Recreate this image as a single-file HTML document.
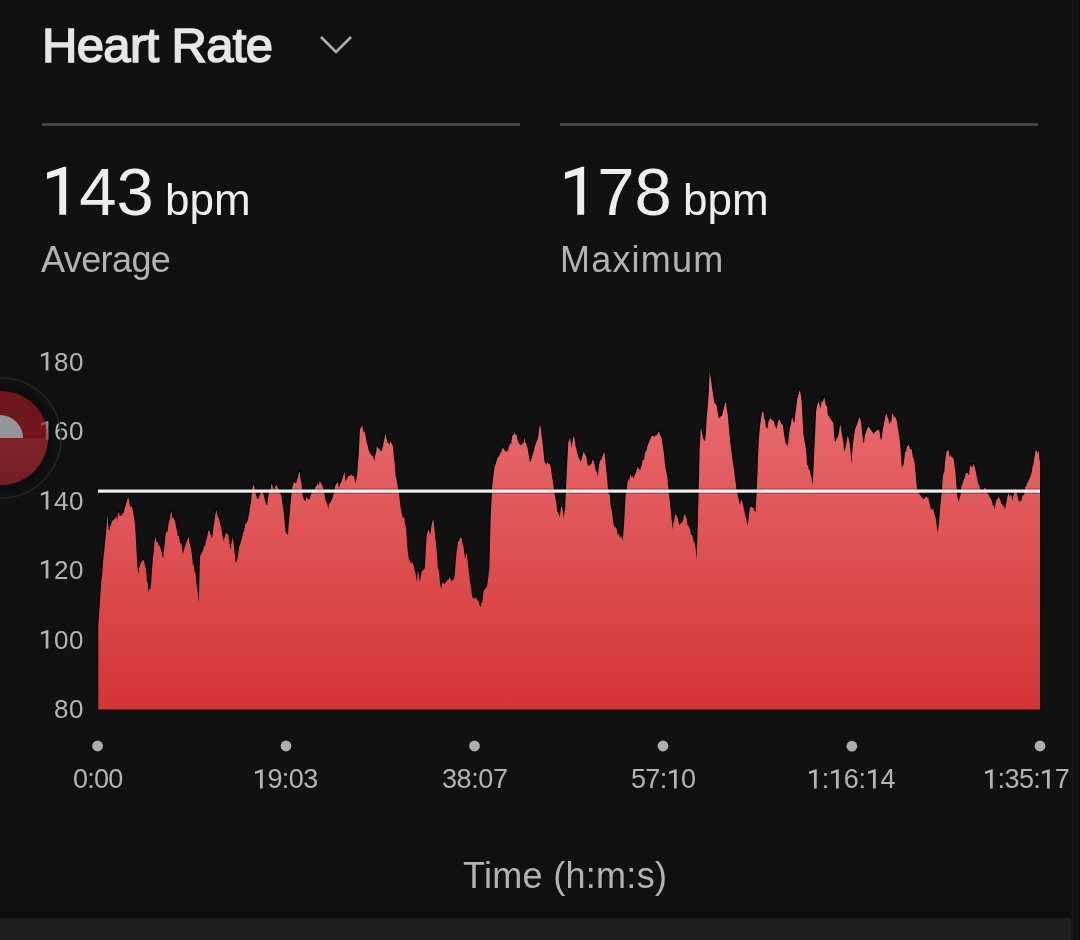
<!DOCTYPE html>
<html><head><meta charset="utf-8">
<style>
html,body{margin:0;padding:0;}
body{width:1080px;height:940px;background:#111111;position:relative;overflow:hidden;font-family:"Liberation Sans",sans-serif;}
.a{position:absolute;white-space:nowrap;will-change:transform;}
.title{left:42px;top:21px;font-size:49px;font-weight:normal;color:#e6e6e6;line-height:1;letter-spacing:-0.65px;-webkit-text-stroke:1.5px #e6e6e6;}
.big{font-size:67px;color:#eeeeee;line-height:1;}
.unit{font-size:44px;color:#eeeeee;line-height:1;}
.lbl{font-size:36px;color:#b3b3b3;line-height:1;}
.yl{font-size:26px;letter-spacing:0.6px;color:#b4b4b4;line-height:1;text-align:right;width:60px;}
.xl{font-size:27px;letter-spacing:-0.75px;color:#b4b4b4;line-height:1;}
.one{position:relative;-webkit-text-fill-color:transparent;}
.one svg{position:absolute;left:0;top:0;width:0.556em;height:1.117em;overflow:visible;}
.div{position:absolute;height:3px;background:linear-gradient(#363636,#4a4a4a 50%,#3e3e3e);top:123px;}
</style></head><body>
<div class="a title">Heart Rate</div>
<svg class="a" style="left:318px;top:34px" width="36" height="22" viewBox="0 0 36 22"><polyline points="3,3 18,18 33,3" fill="none" stroke="#b0b0b0" stroke-width="2.6"/></svg>
<div class="div" style="left:42px;width:478px"></div>
<div class="div" style="left:560px;width:478px"></div>

<div class="a big" style="left:42px;top:158px"><span class="one">1<svg viewBox="0 0 556 1117" preserveAspectRatio="none"><path d="M361,190 L361,905 L258,905 L258,312 L75,373 L75,278 L330,190 Z" fill="currentColor"/></svg></span>43</div>
<div class="a unit" style="left:165px;top:178px">bpm</div>
<div class="a lbl" style="left:41px;top:241.5px;letter-spacing:-0.6px">Average</div>

<div class="a big" style="left:560px;top:158px"><span class="one">1<svg viewBox="0 0 556 1117" preserveAspectRatio="none"><path d="M361,190 L361,905 L258,905 L258,312 L75,373 L75,278 L330,190 Z" fill="currentColor"/></svg></span>78</div>
<div class="a unit" style="left:683px;top:178px">bpm</div>
<div class="a lbl" style="left:559.5px;top:242px;letter-spacing:1.2px">Maximum</div>

<div class="a yl" style="left:24.1px;top:349px"><span class="one">1<svg viewBox="0 0 556 1117" preserveAspectRatio="none"><path d="M361,190 L361,905 L258,905 L258,312 L75,373 L75,278 L330,190 Z" fill="currentColor"/></svg></span>80</div>
<div class="a yl" style="left:24.1px;top:418.3px"><span class="one">1<svg viewBox="0 0 556 1117" preserveAspectRatio="none"><path d="M361,190 L361,905 L258,905 L258,312 L75,373 L75,278 L330,190 Z" fill="currentColor"/></svg></span>60</div>
<div class="a yl" style="left:24.1px;top:488.2px"><span class="one">1<svg viewBox="0 0 556 1117" preserveAspectRatio="none"><path d="M361,190 L361,905 L258,905 L258,312 L75,373 L75,278 L330,190 Z" fill="currentColor"/></svg></span>40</div>
<div class="a yl" style="left:24.1px;top:557.4px"><span class="one">1<svg viewBox="0 0 556 1117" preserveAspectRatio="none"><path d="M361,190 L361,905 L258,905 L258,312 L75,373 L75,278 L330,190 Z" fill="currentColor"/></svg></span>20</div>
<div class="a yl" style="left:24.1px;top:626.5px"><span class="one">1<svg viewBox="0 0 556 1117" preserveAspectRatio="none"><path d="M361,190 L361,905 L258,905 L258,312 L75,373 L75,278 L330,190 Z" fill="currentColor"/></svg></span>00</div>
<div class="a yl" style="left:24.1px;top:695.7px">80</div>

<svg class="a" style="left:0;top:0" width="1080" height="940" viewBox="0 0 1080 940">
<defs><linearGradient id="g" x1="0" y1="370" x2="0" y2="710" gradientUnits="userSpaceOnUse">
<stop offset="0" stop-color="rgb(234,112,116)"/><stop offset="1" stop-color="rgb(211,52,52)"/></linearGradient></defs>
<polygon points="98.3,709.5 98.3,626.0 99.5,608.0 100.5,593.3 101.4,579.0 102.2,575.3 103.0,562.0 103.7,555.5 104.4,549.5 105.6,537.0 106.6,527.0 107.4,514.0 108.4,528.0 109.3,531.3 110.3,526.0 111.2,523.9 112.0,521.0 112.8,520.3 113.7,519.8 114.6,519.0 115.4,517.7 116.3,515.7 117.1,520.3 118.0,514.0 118.8,511.9 119.7,515.8 120.5,516.0 121.3,515.4 122.2,514.8 123.0,512.6 123.9,513.2 124.7,507.9 125.6,505.7 126.5,502.1 127.3,500.2 128.2,497.0 129.1,500.9 129.9,505.7 130.8,507.2 131.6,505.7 132.4,508.7 133.3,513.2 134.1,517.7 135.0,524.4 135.9,538.0 136.8,556.4 137.6,570.0 138.4,573.8 139.3,567.5 140.1,565.0 140.9,562.1 141.8,561.7 142.7,560.3 143.5,560.0 144.3,562.2 145.2,566.8 146.0,568.7 146.9,581.2 147.7,582.9 148.6,592.5 149.4,588.5 150.3,589.0 151.2,581.9 152.0,569.5 152.9,558.5 153.7,551.4 154.6,541.5 155.4,536.4 156.3,541.3 157.1,542.0 158.0,543.0 158.8,546.0 159.7,545.4 160.5,548.3 161.4,551.0 162.2,555.5 163.1,558.5 163.9,550.9 164.8,543.1 165.6,534.7 166.5,530.6 167.3,533.0 168.2,526.0 169.0,521.4 169.9,519.3 170.8,513.4 171.6,510.9 172.4,519.3 173.3,516.9 174.1,519.4 175.0,521.0 175.8,525.9 176.7,529.6 177.6,535.4 178.4,535.3 179.3,538.0 180.1,543.4 181.0,542.9 181.8,545.0 182.7,554.2 183.5,551.7 184.4,548.4 185.2,545.6 186.1,543.0 186.9,540.5 187.8,538.9 188.6,536.4 189.5,542.8 190.3,545.7 191.2,550.0 192.0,554.2 192.9,566.3 193.7,562.7 194.6,571.9 195.4,572.0 196.2,581.5 197.1,587.2 198.0,594.7 198.8,602.8 200.0,556.2 201.0,554.6 202.0,552.3 203.0,550.2 204.0,546.4 205.0,546.0 206.0,541.3 207.0,537.2 207.9,533.3 208.9,529.4 209.9,531.7 210.9,535.5 211.9,538.3 212.7,533.4 213.4,527.6 214.2,523.4 215.3,514.6 216.4,510.0 217.5,516.0 218.6,517.5 219.4,520.3 220.1,523.5 220.9,526.4 221.9,532.0 222.8,537.7 223.8,541.3 224.6,537.3 225.3,535.5 226.1,532.4 227.2,533.5 228.3,535.3 229.4,543.1 230.5,550.2 231.3,544.3 232.0,541.5 232.8,536.8 233.8,544.9 234.8,553.9 235.8,563.6 236.9,560.5 238.0,556.2 239.1,546.7 240.2,544.3 241.2,540.7 242.2,537.4 243.2,532.4 244.2,530.7 245.2,523.7 246.2,523.4 247.3,521.4 248.4,517.5 249.2,512.4 249.9,507.7 250.7,504.1 251.4,497.8 252.1,489.2 253.0,485.7 253.9,484.7 254.9,489.7 255.9,495.1 257.0,498.0 258.1,499.6 259.2,496.2 260.3,493.6 261.1,492.9 261.8,490.5 262.6,490.7 263.7,495.5 264.8,499.6 265.9,503.5 267.0,505.5 267.8,499.5 268.5,495.6 269.3,489.2 270.4,491.6 271.5,483.2 272.6,486.7 273.7,489.2 274.7,488.6 275.7,485.7 276.7,484.7 277.5,487.2 278.2,488.6 279.0,489.2 280.1,492.9 281.2,495.1 282.3,502.7 283.4,510.0 284.2,516.4 284.9,525.8 285.7,532.4 286.8,533.3 287.9,535.3 288.6,525.0 289.4,517.5 290.5,504.7 291.6,492.1 292.4,486.5 293.1,485.5 293.9,481.7 295.0,483.1 296.1,483.2 297.2,479.3 298.3,475.8 299.1,471.7 299.8,472.8 300.6,480.2 301.3,481.7 302.1,490.4 302.8,496.6 303.9,499.4 305.0,501.1 305.8,500.9 306.5,496.5 307.3,498.1 308.4,499.5 309.5,499.6 310.6,495.7 311.7,492.1 312.7,488.4 313.7,490.4 314.7,489.2 315.7,486.2 316.7,485.7 317.7,483.2 318.8,485.5 319.9,480.2 320.7,483.0 321.4,484.0 322.2,484.7 323.3,489.2 324.4,493.6 325.5,500.5 326.6,502.6 327.4,504.1 328.1,509.4 328.9,504.1 330.0,503.0 331.1,501.1 332.2,498.7 333.3,495.1 334.1,492.3 334.8,488.1 335.6,484.7 336.7,483.7 337.8,481.7 338.9,488.0 340.0,484.7 340.8,482.3 341.5,482.6 342.3,478.7 343.4,475.9 344.5,471.3 345.6,482.1 346.7,478.7 347.5,478.6 348.2,476.2 349.0,475.8 350.1,476.0 351.2,474.3 352.3,475.8 353.4,475.8 354.2,476.7 354.9,481.3 355.7,483.2 356.4,478.9 357.2,474.3 357.9,464.6 358.7,454.9 359.9,430.2 360.7,427.8 361.6,426.7 362.4,425.1 363.3,433.1 364.1,430.2 365.0,433.6 365.9,437.4 366.7,442.8 367.6,445.5 368.4,449.4 369.3,451.6 370.1,454.0 371.0,453.8 371.8,456.0 372.7,455.7 373.5,458.2 374.4,460.9 375.2,455.2 376.1,452.9 376.9,445.5 377.8,448.0 378.6,448.5 379.5,449.0 380.3,451.0 381.2,450.9 382.0,450.6 382.9,446.2 383.7,442.8 384.5,438.4 385.4,433.6 386.3,437.8 387.1,441.5 388.0,443.8 388.8,442.5 389.7,445.1 390.5,440.4 391.4,443.5 392.2,444.3 393.1,447.2 394.0,459.2 394.8,464.3 395.6,475.3 396.5,479.6 397.3,484.6 398.2,488.8 399.0,493.2 399.9,502.0 400.7,508.5 401.5,512.0 402.4,517.0 403.3,517.9 404.1,516.6 405.0,523.4 406.2,529.2 407.0,543.2 407.9,552.6 408.8,558.3 409.7,560.8 410.5,562.5 411.4,563.2 412.3,561.1 413.2,565.5 414.0,566.2 414.7,571.0 415.5,572.5 416.7,581.9 417.9,570.2 418.8,574.6 419.6,581.9 420.5,578.3 421.4,572.5 422.2,570.5 423.1,570.2 424.0,569.5 424.9,567.8 425.8,549.0 426.6,537.4 427.5,532.1 428.4,529.2 429.2,531.7 430.1,535.1 431.0,529.2 431.9,523.4 433.1,518.7 434.2,525.7 434.9,533.3 435.6,540.9 436.4,548.6 437.2,558.5 438.0,569.4 438.9,570.2 440.1,584.2 441.3,588.9 442.4,581.9 443.3,583.0 444.2,584.2 445.0,583.4 445.9,581.9 446.8,581.1 447.7,579.5 448.5,579.8 449.4,577.2 450.3,578.2 451.2,580.7 452.1,580.8 453.0,579.5 453.9,579.3 454.7,574.9 455.6,562.9 456.5,552.6 457.4,546.7 458.2,540.9 459.1,541.1 460.0,537.4 460.9,537.8 461.7,538.6 462.6,544.0 463.5,546.8 464.2,552.4 465.0,558.5 465.9,556.3 466.9,552.0 467.9,564.0 469.0,573.2 469.8,580.3 470.6,585.1 471.4,590.7 472.2,596.6 473.0,598.1 473.8,597.5 474.6,598.8 475.4,598.7 476.2,596.0 477.0,600.3 477.8,600.2 478.6,600.9 479.6,605.1 480.7,607.2 481.5,602.0 482.3,602.7 483.1,594.5 483.9,590.2 484.7,589.0 485.5,588.6 486.3,587.1 487.1,586.0 488.2,577.5 489.3,569.0 490.0,543.8 490.7,515.7 491.5,501.2 492.4,483.8 493.5,475.1 494.6,466.8 495.6,464.4 496.7,460.4 497.5,458.1 498.3,456.7 499.1,456.0 499.9,454.0 500.7,452.5 501.5,451.5 502.3,449.0 503.1,447.7 503.9,449.1 504.7,450.6 505.5,451.3 506.3,451.9 507.1,449.1 507.9,452.4 508.7,446.7 509.5,445.5 510.3,442.9 511.1,444.6 511.9,438.3 512.7,434.9 513.8,434.6 514.8,432.8 515.6,434.8 516.4,434.6 517.2,438.8 518.0,441.3 518.8,443.4 519.6,443.7 520.4,445.0 521.2,445.5 522.0,443.7 522.8,443.2 523.6,443.2 524.4,437.0 525.2,443.5 526.0,442.3 526.8,446.2 527.6,447.7 528.7,454.4 529.7,462.6 530.8,460.9 531.8,458.3 532.6,454.9 533.4,452.2 534.2,449.4 535.0,445.5 535.8,444.1 536.6,441.4 537.4,439.8 538.2,437.0 539.2,428.5 540.3,424.3 541.3,433.5 542.4,441.3 543.5,452.2 544.6,462.6 545.4,462.6 546.2,465.3 547.0,462.8 547.8,462.6 548.9,464.3 550.0,464.3 550.8,467.5 551.6,473.8 552.4,479.0 553.2,483.4 554.0,489.1 554.8,495.4 555.6,499.4 556.4,503.1 557.2,512.0 558.0,512.1 558.8,514.8 559.6,516.9 560.4,512.4 561.2,505.7 562.0,506.8 562.8,511.2 563.6,518.5 564.4,512.6 565.2,508.9 566.0,489.0 566.8,470.6 567.6,455.8 568.4,441.9 569.2,440.3 570.0,437.1 570.8,442.8 571.5,448.3 572.3,442.9 573.1,438.3 573.9,435.5 574.7,439.8 575.5,446.3 576.3,448.3 577.1,452.5 577.9,454.8 578.7,457.9 579.5,458.9 580.3,461.4 581.1,461.1 581.9,458.7 582.7,454.9 583.5,451.5 584.3,453.1 585.1,455.2 585.9,454.7 586.7,459.1 587.5,464.4 588.3,465.8 589.1,465.4 589.9,465.4 590.7,464.3 591.5,463.7 592.3,460.8 593.1,459.5 593.9,462.0 594.7,464.8 595.5,470.6 596.3,470.7 597.1,473.8 597.9,476.3 598.7,467.9 599.5,462.7 600.3,460.0 601.1,460.2 601.9,457.9 602.7,455.4 603.5,453.6 604.3,451.5 605.0,458.4 605.8,465.8 606.6,473.2 607.4,481.8 608.2,492.3 609.0,494.6 609.8,494.1 610.6,505.9 611.4,508.9 612.2,513.2 613.0,520.9 613.8,524.9 614.6,526.9 615.4,527.3 616.2,528.1 617.0,530.0 617.8,536.0 618.6,532.9 619.4,536.6 620.2,538.3 621.0,534.5 621.8,537.6 622.6,540.8 623.4,532.7 624.2,521.7 625.0,507.0 625.8,493.0 626.6,490.4 627.4,483.2 628.2,478.6 629.0,481.4 629.8,476.5 630.6,473.8 631.4,478.1 632.2,474.8 633.0,478.6 633.8,477.4 634.6,475.4 635.4,473.8 636.2,472.1 637.0,469.1 637.8,465.8 638.6,468.9 639.4,469.2 640.2,470.6 641.0,466.2 641.7,466.4 642.5,461.1 643.3,459.6 644.1,460.2 644.9,453.1 645.7,451.3 646.5,450.7 647.3,446.7 648.1,444.3 648.9,442.8 649.7,440.3 650.5,438.9 651.3,436.5 652.1,435.5 652.9,436.2 653.7,435.9 654.5,437.1 655.3,434.7 656.1,436.2 656.9,433.9 657.7,434.6 658.5,431.8 659.3,432.3 660.1,435.5 660.9,436.6 661.7,438.7 662.5,444.6 663.3,448.9 664.1,454.7 665.0,465.0 666.1,471.4 667.2,476.2 668.0,483.8 668.7,492.7 669.5,498.5 670.3,507.1 671.1,514.8 672.0,522.2 672.8,529.8 673.6,522.1 674.3,520.6 675.1,514.2 676.2,515.1 677.3,516.4 678.4,521.6 679.5,525.4 680.4,523.5 681.2,523.6 682.0,521.9 682.9,520.9 684.0,515.3 685.1,514.2 686.0,517.8 686.8,518.7 687.6,525.5 688.5,525.4 689.3,527.4 690.1,529.3 691.0,535.2 691.8,534.3 692.6,536.0 693.5,541.8 694.4,542.3 695.2,545.5 696.0,551.6 696.7,558.9 697.6,529.1 698.5,498.5 699.6,449.4 700.8,427.0 701.9,432.2 703.0,438.2 704.1,440.4 705.2,440.4 706.0,432.0 706.7,417.3 707.5,409.2 708.6,395.8 709.7,371.2 710.8,378.4 711.9,386.8 712.7,392.4 713.4,396.4 714.2,402.5 715.3,403.7 716.4,404.7 717.5,411.5 718.6,418.1 719.5,417.9 720.3,416.8 721.1,415.9 722.0,415.9 722.8,412.5 723.6,409.6 724.5,405.7 725.3,402.5 726.1,402.9 726.8,409.8 727.6,413.6 728.7,425.6 729.8,438.2 730.9,447.2 732.0,456.1 732.8,462.3 733.5,465.8 734.3,471.7 735.4,480.8 736.5,489.6 737.4,492.9 738.2,497.7 739.0,500.9 739.9,505.3 741.0,499.7 742.1,500.8 742.9,504.6 743.8,508.8 744.6,512.3 745.4,516.4 746.2,517.9 746.9,522.8 747.7,525.4 748.8,515.9 749.9,507.5 750.8,506.9 751.6,506.3 752.4,508.1 753.3,507.5 754.4,511.0 755.5,512.0 756.6,494.1 757.4,475.6 758.1,457.0 758.9,438.2 760.0,426.6 761.1,418.1 762.2,411.5 763.3,411.4 764.1,419.4 765.0,418.9 765.9,428.2 766.7,427.0 767.5,429.2 768.4,421.5 769.2,420.8 770.0,418.1 770.8,418.7 771.5,419.4 772.3,420.3 773.1,420.3 774.0,421.4 774.8,425.4 775.6,427.0 776.7,429.0 777.8,422.6 778.9,419.6 780.0,420.6 780.9,422.8 781.8,424.6 782.7,424.2 783.6,430.9 784.5,437.1 785.4,442.3 786.3,444.0 787.2,445.9 788.1,444.1 789.0,435.0 789.9,427.8 790.8,425.1 791.7,418.8 792.6,417.7 793.6,422.6 794.5,422.4 795.4,413.4 796.3,408.1 797.2,398.9 798.1,396.2 799.0,392.6 799.9,389.9 800.8,394.9 801.7,402.5 802.6,419.8 803.5,435.1 804.4,439.7 805.3,445.5 806.2,451.3 807.1,464.6 808.0,465.8 808.9,470.1 809.8,470.1 810.7,474.8 811.6,478.3 812.5,485.7 813.4,471.5 814.3,451.3 815.2,431.5 816.1,411.6 817.0,406.1 818.0,402.5 818.9,402.3 819.8,406.1 820.7,408.5 821.6,400.8 822.5,402.5 823.4,400.0 824.3,397.1 825.2,402.8 826.1,406.1 827.0,406.0 827.9,415.2 828.8,415.7 829.7,417.8 830.6,418.8 831.5,420.3 832.4,421.4 833.3,422.4 834.2,436.2 835.1,442.3 836.0,439.7 836.9,438.4 837.8,436.9 838.7,434.0 839.6,427.9 840.5,424.2 841.4,431.3 842.4,436.6 843.3,442.3 844.2,451.8 845.1,449.5 846.0,445.3 846.9,440.3 847.8,435.1 848.7,439.2 849.6,442.3 850.5,452.1 851.4,464.0 852.3,451.9 853.2,442.3 854.1,435.9 855.0,429.6 855.9,427.5 856.8,424.8 857.7,422.4 858.6,419.6 859.5,417.0 860.4,419.2 861.3,424.2 862.2,433.6 863.1,442.3 864.0,442.9 864.9,435.1 865.8,433.1 866.8,429.6 867.7,427.8 868.6,426.8 869.5,428.1 870.4,429.6 871.3,430.5 872.2,431.9 873.1,433.3 874.0,434.0 874.9,432.1 875.8,431.4 876.7,430.7 877.6,430.1 878.5,429.6 879.4,431.1 880.3,437.5 881.2,440.5 882.1,434.5 883.0,428.7 883.9,424.2 884.8,419.6 885.7,415.3 886.6,413.4 887.5,417.3 888.4,419.3 889.3,424.2 890.2,421.2 891.2,423.0 892.1,413.4 893.0,413.8 893.9,417.4 894.8,417.0 895.8,417.9 896.7,420.4 897.5,426.8 898.4,430.6 899.2,437.0 900.1,442.6 901.0,455.3 901.8,468.1 902.6,466.1 903.5,464.7 904.4,458.6 905.2,451.1 906.0,452.6 906.9,446.0 907.8,446.0 908.6,444.0 909.5,447.7 910.3,449.8 911.2,448.6 912.0,451.1 912.9,457.4 913.7,458.5 914.6,463.0 915.5,472.6 916.3,481.7 917.1,490.1 918.0,490.2 918.8,491.6 919.7,495.0 920.5,495.3 921.4,497.5 922.2,497.3 923.1,498.7 923.9,499.0 924.8,497.7 925.6,497.0 926.5,496.2 927.3,498.2 928.2,497.0 929.0,501.2 929.9,504.6 930.7,508.9 931.6,509.5 932.4,508.9 933.3,508.9 934.2,513.3 935.0,515.7 935.9,519.1 936.8,526.4 937.6,532.8 938.5,526.9 939.3,519.1 940.1,508.8 941.0,498.7 941.8,492.4 942.7,478.1 943.5,473.2 944.4,471.2 945.2,460.2 946.1,454.5 946.9,451.3 947.8,450.4 948.6,449.4 949.5,457.8 950.3,454.5 951.2,456.2 952.0,457.4 952.9,457.6 953.7,459.6 954.5,465.5 955.4,471.5 956.2,482.3 957.1,495.3 958.0,499.0 958.8,502.1 959.6,498.2 960.5,495.3 961.4,485.9 962.2,485.1 963.1,482.1 963.9,479.3 964.8,478.3 965.6,473.0 966.5,473.2 967.3,472.6 968.2,474.4 969.0,474.9 970.0,464.7 971.1,466.8 972.2,467.7 973.0,464.0 973.7,464.7 974.5,466.5 975.2,469.2 976.0,472.4 976.7,476.6 977.5,480.2 978.2,484.0 979.3,485.3 980.4,491.5 981.2,489.0 981.9,494.1 982.7,493.0 983.5,490.6 984.2,488.5 985.3,487.3 986.4,490.0 987.5,493.5 988.6,494.5 989.4,496.9 990.1,497.7 990.9,499.0 992.0,501.4 993.1,506.4 993.9,504.7 994.6,509.4 995.7,503.0 996.8,499.0 997.6,499.3 998.3,496.7 999.1,497.5 1000.2,499.8 1001.3,503.4 1002.4,504.6 1003.5,506.4 1004.2,506.1 1005.0,509.4 1006.1,504.3 1007.2,497.5 1008.0,494.2 1008.7,493.0 1009.5,497.0 1010.2,495.2 1011.0,494.5 1011.8,497.2 1012.5,500.4 1013.6,494.7 1014.7,491.5 1015.5,488.8 1016.2,488.5 1017.0,493.3 1017.7,497.5 1018.5,500.2 1019.2,501.9 1020.3,500.9 1021.4,500.4 1022.1,496.7 1022.9,494.5 1024.0,495.8 1025.1,487.0 1025.9,486.4 1026.6,485.4 1027.4,482.6 1028.5,481.3 1029.6,478.1 1030.7,475.8 1031.8,472.1 1032.5,467.1 1033.3,464.7 1034.0,460.2 1034.8,455.8 1035.5,450.9 1036.3,449.8 1037.0,452.5 1037.8,452.8 1038.5,450.6 1039.3,458.7 1040.0,461.7 1040,709.5" fill="url(#g)" stroke="#000" stroke-opacity="0.55" stroke-width="3" stroke-linejoin="round" paint-order="stroke"/>
<rect x="98" y="489.5" width="942" height="3.2" fill="#fff" fill-opacity="0.93" stroke="#000" stroke-opacity="0.3" stroke-width="2" paint-order="stroke"/>
<g fill="#adadad">
<circle cx="97.6" cy="746" r="5.4"/><circle cx="286" cy="746" r="5.4"/><circle cx="474.5" cy="746" r="5.4"/>
<circle cx="663" cy="746" r="5.4"/><circle cx="851.9" cy="746.2" r="5.4"/><circle cx="1040" cy="746" r="5.4"/>
</g>
</svg>

<div class="a xl" style="left:72.8px;top:766.4px;letter-spacing:-0.8px">0:00</div>
<div class="a xl" style="left:253px;top:766.4px;letter-spacing:-0.6px"><span class="one">1<svg viewBox="0 0 556 1117" preserveAspectRatio="none"><path d="M361,190 L361,905 L258,905 L258,312 L75,373 L75,278 L330,190 Z" fill="currentColor"/></svg></span>9:03</div>
<div class="a xl" style="left:442px;top:766.4px;letter-spacing:-0.4px">38:07</div>
<div class="a xl" style="left:630.8px;top:766.4px;letter-spacing:-0.65px">57:<span class="one">1<svg viewBox="0 0 556 1117" preserveAspectRatio="none"><path d="M361,190 L361,905 L258,905 L258,312 L75,373 L75,278 L330,190 Z" fill="currentColor"/></svg></span>0</div>
<div class="a xl" style="left:807.2px;top:766.4px;letter-spacing:-0.28px"><span class="one">1<svg viewBox="0 0 556 1117" preserveAspectRatio="none"><path d="M361,190 L361,905 L258,905 L258,312 L75,373 L75,278 L330,190 Z" fill="currentColor"/></svg></span>:<span class="one">1<svg viewBox="0 0 556 1117" preserveAspectRatio="none"><path d="M361,190 L361,905 L258,905 L258,312 L75,373 L75,278 L330,190 Z" fill="currentColor"/></svg></span>6:<span class="one">1<svg viewBox="0 0 556 1117" preserveAspectRatio="none"><path d="M361,190 L361,905 L258,905 L258,312 L75,373 L75,278 L330,190 Z" fill="currentColor"/></svg></span>4</div>
<div class="a xl" style="left:982.6px;top:766.4px;letter-spacing:-0.55px"><span class="one">1<svg viewBox="0 0 556 1117" preserveAspectRatio="none"><path d="M361,190 L361,905 L258,905 L258,312 L75,373 L75,278 L330,190 Z" fill="currentColor"/></svg></span>:35:<span class="one">1<svg viewBox="0 0 556 1117" preserveAspectRatio="none"><path d="M361,190 L361,905 L258,905 L258,312 L75,373 L75,278 L330,190 Z" fill="currentColor"/></svg></span>7</div>

<div class="a lbl" style="left:463px;top:858px;font-size:36px;letter-spacing:0.3px">Time (h:m:s)</div>

<div class="a" style="left:0;top:912px;width:1080px;height:6px;background:#0e0e0e"></div>
<div class="a" style="left:0;top:918px;width:1080px;height:22px;background:#1f1f1f"></div>
<div class="a" style="left:1071px;top:0;width:3px;height:940px;background:#19111a"></div>
<div class="a" style="left:1074px;top:0;width:2px;height:940px;background:#0b150b"></div>
<div class="a" style="left:1076px;top:0;width:2px;height:940px;background:#1f0d22"></div>
<div class="a" style="left:1078px;top:0;width:2px;height:940px;background:#021a02"></div>

<svg class="a" style="left:0;top:370px" width="70" height="140" viewBox="0 0 70 140">
<defs><radialGradient id="sh" cx="1" cy="68" r="60" gradientUnits="userSpaceOnUse">
<stop offset="0.75" stop-color="#000" stop-opacity="0.3"/><stop offset="0.95" stop-color="#000" stop-opacity="0"/></radialGradient>
<linearGradient id="rd" x1="0" y1="0" x2="0" y2="1"><stop offset="0" stop-color="rgb(190,30,38)"/><stop offset="0.5" stop-color="rgb(196,32,41)"/><stop offset="0.51" stop-color="rgb(222,55,70)"/><stop offset="1" stop-color="rgb(200,45,55)"/></linearGradient></defs>
<circle cx="1" cy="68" r="60" fill="url(#sh)"/>
<circle cx="1" cy="68" r="60" fill="none" stroke="#262626" stroke-width="1.5"/>
<circle cx="1" cy="68" r="47" fill="url(#rd)" fill-opacity="0.55"/>
<path d="M0,45 A23,23 0 0 1 23,68 L0,68 Z" fill="#939696"/>
</svg>
</body></html>
